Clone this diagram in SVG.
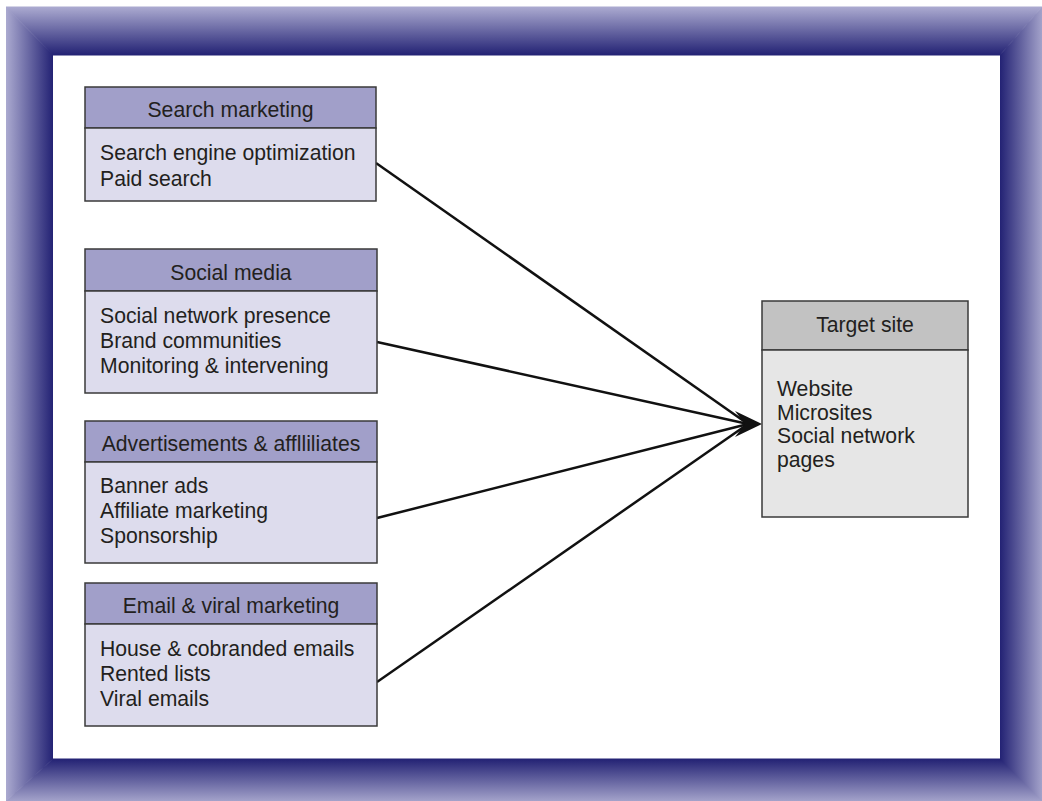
<svg xmlns="http://www.w3.org/2000/svg" width="1042" height="801" viewBox="0 0 1042 801">
<defs>
<linearGradient id="gTop" gradientUnits="userSpaceOnUse" x1="0" y1="7" x2="0" y2="55"><stop offset="0" stop-color="#abaad0"/><stop offset="1" stop-color="#232274"/></linearGradient>
<linearGradient id="gBot" gradientUnits="userSpaceOnUse" x1="0" y1="801" x2="0" y2="759"><stop offset="0" stop-color="#a3a2ca"/><stop offset="1" stop-color="#232274"/></linearGradient>
<linearGradient id="gLeft" gradientUnits="userSpaceOnUse" x1="6" y1="0" x2="53" y2="0"><stop offset="0" stop-color="#abaad0"/><stop offset="1" stop-color="#232274"/></linearGradient>
<linearGradient id="gRight" gradientUnits="userSpaceOnUse" x1="1042" y1="0" x2="1000" y2="0"><stop offset="0" stop-color="#a3a2ca"/><stop offset="1" stop-color="#232274"/></linearGradient>
<style>
text{font-family:"Liberation Sans",Arial,sans-serif;font-size:21.2px;fill:#231f20}
.hd{text-anchor:middle}
.box{stroke:#3a3a3a;stroke-width:1.5}
.h{fill:#a19fc9}
.b{fill:#dddced}
.th{fill:#c2c2c2}
.tb{fill:#e6e6e6}
.con{stroke:#111;stroke-width:2.5;fill:none}
</style>
</defs>
<rect x="0" y="0" width="1042" height="801" fill="#ffffff"/>
<g id="frame">
<polygon points="6,7 1042,7 1000,55 53,55" fill="url(#gTop)" stroke="url(#gTop)" stroke-width="1"/>
<polygon points="6,801 53,759 1000,759 1042,801" fill="url(#gBot)" stroke="url(#gBot)" stroke-width="1"/>
<polygon points="6,7 53,55 53,759 6,801" fill="url(#gLeft)"/>
<polygon points="1042,7 1042,801 1000,759 1000,55" fill="url(#gRight)"/>
</g>
<g id="connectors">
<line class="con" x1="376" y1="163" x2="748" y2="424"/>
<line class="con" x1="377" y1="342" x2="748" y2="424"/>
<line class="con" x1="377" y1="518" x2="748" y2="424"/>
<line class="con" x1="377" y1="682" x2="748" y2="424"/>
<polygon points="762,424 735,411 745,424 735,437" fill="#111"/>
</g>
<g id="search-marketing">
<rect class="box h" x="85" y="87" width="291" height="41"/>
<rect class="box b" x="85" y="128" width="291" height="73"/>
<text class="hd" x="230.5" y="117">Search marketing</text>
<text x="100" y="160">Search engine optimization</text>
<text x="100" y="186">Paid search</text>
</g>
<g id="social-media">
<rect class="box h" x="85" y="249" width="292" height="42"/>
<rect class="box b" x="85" y="291" width="292" height="102"/>
<text class="hd" x="231" y="280">Social media</text>
<text x="100" y="323">Social network presence</text>
<text x="100" y="348">Brand communities</text>
<text x="100" y="373">Monitoring &amp; intervening</text>
</g>
<g id="advertisements">
<rect class="box h" x="85" y="421" width="292" height="41"/>
<rect class="box b" x="85" y="462" width="292" height="101"/>
<text class="hd" x="231" y="451">Advertisements &amp; afflliliates</text>
<text x="100" y="493">Banner ads</text>
<text x="100" y="518">Affiliate marketing</text>
<text x="100" y="543">Sponsorship</text>
</g>
<g id="email-viral">
<rect class="box h" x="85" y="583" width="292" height="41"/>
<rect class="box b" x="85" y="624" width="292" height="102"/>
<text class="hd" x="231" y="613">Email &amp; viral marketing</text>
<text x="100" y="656">House &amp; cobranded emails</text>
<text x="100" y="681">Rented lists</text>
<text x="100" y="706">Viral emails</text>
</g>
<g id="target-site">
<rect class="box th" x="762" y="301" width="206" height="49"/>
<rect class="box tb" x="762" y="350" width="206" height="167"/>
<text class="hd" x="865" y="332">Target site</text>
<text x="777" y="396">Website</text>
<text x="777" y="420">Microsites</text>
<text x="777" y="443">Social network</text>
<text x="777" y="467">pages</text>
</g>
</svg>
